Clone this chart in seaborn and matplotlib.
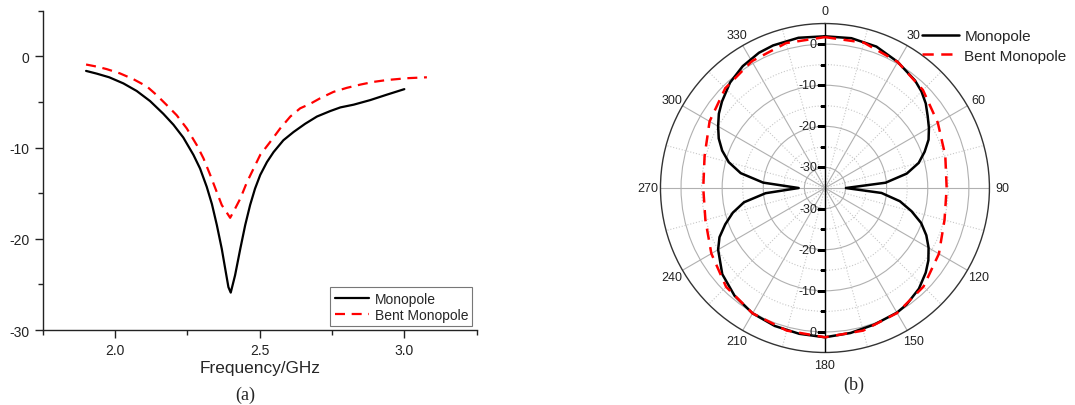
import numpy as np
import pandas as pd
import matplotlib
matplotlib.use("Agg")
import matplotlib.pyplot as plt
from matplotlib.ticker import MultipleLocator, FixedLocator, FormatStrFormatter
import seaborn as sns

# ---- (a) reflection coefficient vs frequency ----
freq_mono = [1.90, 1.937, 1.98, 2.029, 2.075, 2.121, 2.167, 2.202, 2.236, 2.271,
             2.294, 2.317, 2.335, 2.352, 2.369, 2.381, 2.392, 2.400, 2.415, 2.433,
             2.450, 2.467, 2.484, 2.502, 2.525, 2.548, 2.582, 2.617, 2.657, 2.698,
             2.744, 2.779, 2.825, 2.882, 2.940, 3.00]
s11_mono = [-1.6, -1.9, -2.3, -2.97, -3.8, -4.9, -6.3, -7.5, -8.9, -10.8,
            -12.3, -14.3, -16.2, -18.5, -21.1, -23.3, -25.3, -25.9, -24.0, -21.1,
            -18.5, -16.3, -14.5, -13.0, -11.6, -10.5, -9.2, -8.3, -7.4, -6.6,
            -6.0, -5.6, -5.3, -4.8, -4.2, -3.6]

freq_bent = [1.90, 1.937, 1.971, 2.017, 2.063, 2.110, 2.144, 2.179, 2.213, 2.248,
             2.283, 2.306, 2.329, 2.352, 2.369, 2.398, 2.415, 2.433, 2.456, 2.479,
             2.502, 2.536, 2.571, 2.606, 2.640, 2.675, 2.709, 2.755, 2.802, 2.848,
             2.894, 2.940, 3.009, 3.078]
s11_bent = [-0.9, -1.13, -1.4, -1.87, -2.5, -3.3, -4.25, -5.35, -6.45, -7.9,
            -9.75, -11.2, -13.0, -14.9, -16.3, -17.7, -16.7, -15.6, -13.8, -12.3,
            -10.8, -9.4, -7.9, -6.6, -5.7, -5.2, -4.6, -3.9, -3.45, -3.1,
            -2.8, -2.6, -2.4, -2.3]

# ---- (b) radiation pattern (dB) vs angle (deg) ----
ang_mono = [0, 10, 20, 30, 40, 45, 50, 55, 60, 65, 70, 75, 80, 85, 90,
            95, 100, 105, 110, 115, 120, 125, 130, 137, 145, 150, 160, 170, 180,
            190, 200, 210, 220, 230, 240, 245, 250, 255, 260, 265, 270,
            275, 280, 285, 290, 295, 300, 305, 310, 318, 326, 334, 340, 350, 360]
gain_mono = [1.9, 2.0, 1.6, 0.4, -0.9, -1.8, -3.0, -4.5, -5.8, -7.2, -9.2, -11.4, -14.8, -20.2, -29.9,
             -21.2, -16.5, -13.2, -10.1, -7.8, -5.9, -4.3, -3.0, -1.5, -0.4, 0.0, 0.3, 0.8, 1.3,
             1.0, 0.7, 0.2, -0.8, -2.4, -5.0, -6.7, -9.2, -11.8, -15.0, -20.5, -28.6,
             -19.9, -14.2, -10.8, -8.4, -6.5, -5.0, -3.5, -2.3, -0.5, 0.75, 1.6, 1.9, 2.1, 1.9]

ang_bent = [0, 15, 30, 45, 60, 75, 90, 105, 120, 135, 150, 165, 180,
            195, 210, 225, 240, 255, 270, 285, 300, 315, 330, 345, 360]
gain_bent = [1.7, 1.6, 0.4, -1.3, -3.3, -4.7, -5.4, -4.9, -3.0, -1.1, 0.1, 0.9, 1.3,
             0.9, 0.2, -1.0, -3.1, -4.9, -5.4, -4.7, -2.6, -0.7, 0.6, 1.5, 1.7]

theta_labels = [str(a) for a in range(0, 360, 30)]
r_label_vals = [0, -10, -20, -30]

sns.set_style("ticks")
plt.rcParams["font.family"] = ["Liberation Sans", "DejaVu Sans"]
plt.rcParams["axes.unicode_minus"] = False

fig = plt.figure(figsize=(10.75, 4.06), dpi=100)

# ---------------- panel (a) ----------------
ax1 = fig.add_axes([0.0397, 0.1847, 0.4037, 0.7865])
df_a1 = pd.DataFrame({"f": freq_mono, "s": s11_mono})
df_a2 = pd.DataFrame({"f": freq_bent, "s": s11_bent})
sns.lineplot(data=df_a1, x="f", y="s", ax=ax1, color="black", lw=1.6,
             estimator=None, sort=False, label="Monopole")
sns.lineplot(data=df_a2, x="f", y="s", ax=ax1, color="#ff0000", lw=1.6,
             linestyle=(0, (4.5, 3)), estimator=None, sort=False, label="Bent Monopole")
ax1.set_xlim(1.75, 3.25)
ax1.set_ylim(-30, 5)
ax1.xaxis.set_major_locator(MultipleLocator(0.5))
ax1.xaxis.set_minor_locator(MultipleLocator(0.25))
ax1.yaxis.set_major_locator(MultipleLocator(10))
ax1.yaxis.set_minor_locator(MultipleLocator(5))
ax1.xaxis.set_major_formatter(FormatStrFormatter("%.1f"))
ax1.yaxis.set_major_formatter(FormatStrFormatter("%d"))
ax1.tick_params(which="major", length=6, width=1, labelsize=10, colors="#222222")
ax1.tick_params(which="minor", length=3.5, width=1, colors="#222222")
for s in ["top", "right"]:
    ax1.spines[s].set_visible(False)
for s in ["left", "bottom"]:
    ax1.spines[s].set_color("#222222")
    ax1.spines[s].set_linewidth(1)
ax1.set_xlabel("Frequency/GHz", fontsize=12.4, labelpad=2)
ax1.set_ylabel("")
leg1 = ax1.legend(loc="lower right", fontsize=10, frameon=True, fancybox=False,
                  edgecolor="#555555", handlelength=2.5, handletextpad=0.4,
                  borderaxespad=0.3, borderpad=0.3, labelspacing=0.15)
leg1.get_frame().set_linewidth(0.8)

fig.text(0.228, 0.027, "(a)", ha="center", va="center", fontsize=13,
         family=["Liberation Serif", "DejaVu Serif"])

# ---------------- panel (b) ----------------
ax2 = fig.add_axes([0.6144, 0.1293, 0.3060, 0.8103], projection="polar")
ax2.set_theta_zero_location("N")
ax2.set_theta_direction(-1)
df_b1 = pd.DataFrame({"t": np.deg2rad(ang_mono), "g": gain_mono})
df_b2 = pd.DataFrame({"t": np.deg2rad(ang_bent), "g": gain_bent})
sns.lineplot(data=df_b1, x="t", y="g", ax=ax2, color="black", lw=1.8,
             estimator=None, sort=False, label="Monopole", zorder=4)
sns.lineplot(data=df_b2, x="t", y="g", ax=ax2, color="#ff0000", lw=1.8,
             linestyle=(0, (4.5, 3)), estimator=None, sort=False,
             label="Bent Monopole", zorder=5)
ax2.set_ylim(-35, 5)
ax2.set_xlabel("")
ax2.set_ylabel("")

ax2.set_thetagrids(np.arange(0, 360, 30), theta_labels)
ax2.xaxis.set_minor_locator(FixedLocator(np.deg2rad(np.arange(15, 360, 30))))
ax2.set_yticks([-30, -20, -10, 0])
ax2.yaxis.set_minor_locator(FixedLocator([-25, -15, -5]))
ax2.set_yticklabels([])
ax2.grid(which="major", color="#b0b0b0", lw=0.8, ls="-")
ax2.grid(which="minor", color="#c8c8c8", lw=0.8, ls=":")
ax2.tick_params(axis="x", which="major", labelsize=9, pad=-1, colors="#222222",
                direction="inout", length=6)
ax2.tick_params(axis="x", which="minor", length=0)
ax2.tick_params(axis="y", which="both", length=0)
ax2.spines["polar"].set_color("#333333")
ax2.spines["polar"].set_linewidth(1.0)

# vertical radial axis with ticks and labels on both halves
ax2.axvline(0, color="black", lw=1.0, zorder=3)
ax2.axvline(np.pi, color="black", lw=1.0, zorder=3)
for th in (0.0, np.pi):
    ax2.plot([th] * 4, r_label_vals, ls="none", marker=0, ms=6, mew=1,
             color="black", zorder=3)
    ax2.plot([th] * 3, [-25, -15, -5], ls="none", marker=0, ms=3.5, mew=1,
             color="black", zorder=3)
    for v in r_label_vals:
        ax2.annotate(str(v), xy=(th, v), xytext=(-8, 0), textcoords="offset pixels",
                     ha="right", va="center", fontsize=9, color="#222222", zorder=6)

h, l = ax2.get_legend_handles_labels()
ax2.get_legend().remove()
fig.legend(h, l, loc="upper left", bbox_to_anchor=(0.858, 0.925), frameon=False,
           fontsize=11, handlelength=2.4, handletextpad=0.35, borderpad=0,
           borderaxespad=0, labelspacing=0.35)

fig.text(0.794, 0.052, "(b)", ha="center", va="center", fontsize=13,
         family=["Liberation Serif", "DejaVu Serif"])

fig.savefig("out.png", dpi=100)
